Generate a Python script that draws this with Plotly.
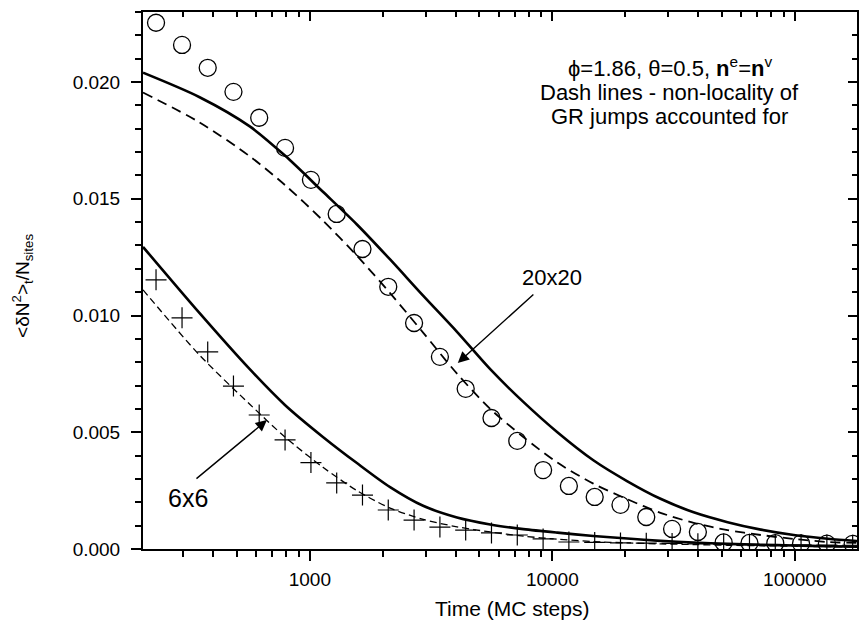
import math
import plotly.graph_objects as go

# ---------------- data ----------------
t_mc = [232, 297, 379, 484, 618, 790, 1010, 1290, 1648, 2105, 2690, 3438, 4391, 5610,
        7168, 9160, 11700, 14950, 19100, 24400, 31180, 39830, 50880, 65020, 83070,
        106100, 135600, 173200]
mc_20x20 = [0.02254, 0.02159, 0.02061, 0.01958, 0.01847, 0.01718, 0.01581, 0.01435,
            0.01285, 0.01123, 0.00968, 0.00823, 0.00686, 0.00561, 0.00463, 0.00338,
            0.00270, 0.00223, 0.00189, 0.00137, 0.00086, 0.00073, 0.00028, 0.00026,
            0.00025, 0.00024, 0.00023, 0.00022]
mc_6x6 = [0.01153, 0.00990, 0.00844, 0.00698, 0.00574, 0.00467, 0.00370, 0.00283,
          0.00231, 0.00167, 0.00124, 0.00094, 0.00081, 0.00069, 0.00060, 0.00043,
          0.00030, 0.00028, 0.00026, 0.00025, 0.00024, 0.00022, 0.00021, 0.00020,
          0.00019, 0.00018, 0.00017, 0.00016]

t_curve = [205, 351, 565, 789, 1132, 1563, 2142, 2931, 4044, 5543, 7590, 10490, 14760,
           20400, 27930, 38270, 52810, 72370, 99000, 136700, 182000]
solid_20x20 = [0.0204, 0.01935, 0.0181, 0.01685, 0.0153, 0.0139, 0.0124, 0.01085,
               0.0093, 0.0077, 0.0063, 0.0050, 0.0038, 0.0029, 0.00215, 0.00157,
               0.00115, 0.00083, 0.0006, 0.00044, 0.00034]
dash_20x20 = [0.01955, 0.01827, 0.01682, 0.01559, 0.01407, 0.01256, 0.01096, 0.00927,
              0.00751, 0.0060, 0.0048, 0.0037, 0.0028, 0.00213, 0.00155, 0.00112,
              0.00081, 0.0006, 0.00043, 0.0003, 0.00026]
solid_6x6 = [0.01294, 0.0101, 0.0077, 0.00617, 0.0048, 0.00368, 0.00265, 0.00185,
             0.00135, 0.00105, 0.00085, 0.0007, 0.00056, 0.00045, 0.00035, 0.00028,
             0.00022, 0.00018, 0.00015, 0.00012, 0.0001]
dash_6x6 = [0.0111, 0.0083, 0.0062, 0.0048, 0.0035, 0.0025, 0.00175, 0.00127, 0.00095,
            0.00073, 0.00055, 0.00042, 0.00032, 0.00026, 0.00022, 0.00019, 0.00016,
            0.00014, 0.00012, 0.0001, 0.00009]

x_major = [1000, 10000, 100000]
x_minor = [m * 10 ** e for e in (2, 3, 4, 5) for m in range(2, 10)]
x_range = [math.log10(205), math.log10(180500)]
y_range = [0, 0.0230]

info_lines = ["ϕ=1.86, θ=0.5, <b>n</b><sup>e</sup>=<b>n</b><sup>v</sup>",
              "Dash lines - non-locality of",
              "GR jumps accounted for"]

FONT = "Liberation Sans, Arial, sans-serif"

fig = go.Figure()
line_kw = dict(mode="lines", line_shape="spline", showlegend=False, hoverinfo="skip")
fig.add_trace(go.Scatter(x=t_curve, y=solid_20x20, line=dict(color="black", width=2.6, smoothing=0.8), **line_kw))
fig.add_trace(go.Scatter(x=t_curve, y=dash_20x20, line=dict(color="black", width=1.8, dash="10px,6px", smoothing=0.8), **line_kw))
fig.add_trace(go.Scatter(x=t_curve, y=solid_6x6, line=dict(color="black", width=2.6, smoothing=0.8), **line_kw))
fig.add_trace(go.Scatter(x=t_curve, y=dash_6x6, line=dict(color="black", width=1.3, dash="7px,4px", smoothing=0.8), **line_kw))
fig.add_trace(go.Scatter(x=t_mc, y=mc_20x20, mode="markers", showlegend=False,
                         marker=dict(symbol="circle-open", size=17, color="black",
                                     line=dict(width=1.3, color="black"))))
fig.add_trace(go.Scatter(x=t_mc, y=mc_6x6, mode="markers", showlegend=False,
                         marker=dict(symbol="cross-thin-open", size=15, color="black",
                                     line=dict(width=1.2, color="black"))))
# helper trace for mirrored (inward-ticked) top/right axes
fig.add_trace(go.Scatter(x=[], y=[], xaxis="x2", yaxis="y2", showlegend=False, hoverinfo="skip"))

tickfont = dict(family=FONT, size=19, color="black")
fig.update_layout(
    width=859, height=621,
    margin=dict(l=143, r=2, t=12, b=72),
    paper_bgcolor="white", plot_bgcolor="white",
    xaxis=dict(type="log", range=x_range, showgrid=False, zeroline=False,
               showline=True, linewidth=2, linecolor="black",
               tickmode="array", tickvals=x_major, ticktext=[str(v) for v in x_major],
               ticks="outside", ticklen=10, tickwidth=2, tickcolor="black",
               ticklabelstandoff=2, tickfont=tickfont,
               minor=dict(tickmode="array", tickvals=x_minor, ticks="outside",
                          ticklen=6, tickwidth=1.5, tickcolor="black")),
    yaxis=dict(range=y_range, showgrid=False, zeroline=False,
               showline=True, linewidth=2, linecolor="black",
               tickmode="linear", tick0=0, dtick=0.005, tickformat=".3f",
               ticks="outside", ticklen=10, tickwidth=2, tickcolor="black",
               ticklabelstandoff=7, tickfont=tickfont,
               minor=dict(tickmode="linear", tick0=0, dtick=0.001, ticks="outside",
                          ticklen=6, tickwidth=1.5, tickcolor="black")),
    xaxis2=dict(type="log", range=x_range, overlaying="x", side="top", anchor="y2",
                showgrid=False, zeroline=False, showline=True, linewidth=2, linecolor="black",
                showticklabels=False, tickmode="array", tickvals=x_major,
                ticks="inside", ticklen=9, tickwidth=2, tickcolor="black",
                minor=dict(tickmode="array", tickvals=x_minor, ticks="inside",
                           ticklen=5, tickwidth=1.5, tickcolor="black")),
    yaxis2=dict(range=y_range, overlaying="y", side="right", anchor="x2",
                showgrid=False, zeroline=False, showline=True, linewidth=2, linecolor="black",
                showticklabels=False, tickmode="linear", tick0=0, dtick=0.005,
                ticks="inside", ticklen=9, tickwidth=2, tickcolor="black",
                minor=dict(tickmode="linear", tick0=0, dtick=0.001, ticks="inside",
                           ticklen=5, tickwidth=1.5, tickcolor="black")),
)

# axis titles
fig.add_annotation(text="Time (MC steps)", xref="paper", yref="paper", x=0.517, y=-0.110,
                   showarrow=False, xanchor="center", yanchor="middle",
                   font=dict(family=FONT, size=21, color="black"))
fig.add_annotation(text="&lt;δN<sup>2</sup>&gt;<sub>t</sub>/N<sub>sites</sub>",
                   xref="paper", yref="paper", x=-0.168, y=0.49, textangle=-90,
                   showarrow=False, xanchor="center", yanchor="middle",
                   font=dict(family=FONT, size=19, color="black"))

# info text, one annotation per line
for i, (txt, yp) in enumerate(zip(info_lines, [0.8976, 0.851, 0.8045])):
    fig.add_annotation(text=txt, xref="paper", yref="paper", x=0.738, y=yp,
                       showarrow=False, xanchor="center", yanchor="middle",
                       font=dict(family=FONT, size=22, color="black"))

# labels with arrows
lab20 = dict(x=3.998, y=0.01165)
lab6 = dict(x=2.497, y=0.00218)
fig.add_annotation(text="20x20", xref="x", yref="y", x=lab20["x"], y=lab20["y"],
                   showarrow=False, font=dict(family=FONT, size=22, color="black"))
fig.add_annotation(text="6x6", xref="x", yref="y", x=lab6["x"], y=lab6["y"],
                   showarrow=False, font=dict(family=FONT, size=25, color="black"))
fig.add_annotation(text="", xref="x", yref="y", axref="x", ayref="y",
                   x=3.610, y=0.00797, ax=3.928, ay=0.01096,
                   showarrow=True, arrowhead=2, arrowsize=1.6, arrowwidth=1.4, arrowcolor="black")
fig.add_annotation(text="", xref="x", yref="y", axref="x", ayref="y",
                   x=2.823, y=0.00552, ax=2.526, ay=0.00296,
                   showarrow=True, arrowhead=2, arrowsize=1.6, arrowwidth=1.4, arrowcolor="black")

fig.write_html("out.html", config={"displayModeBar": False},
               post_script="document.body.style.margin='0';document.body.style.overflow='hidden';")
